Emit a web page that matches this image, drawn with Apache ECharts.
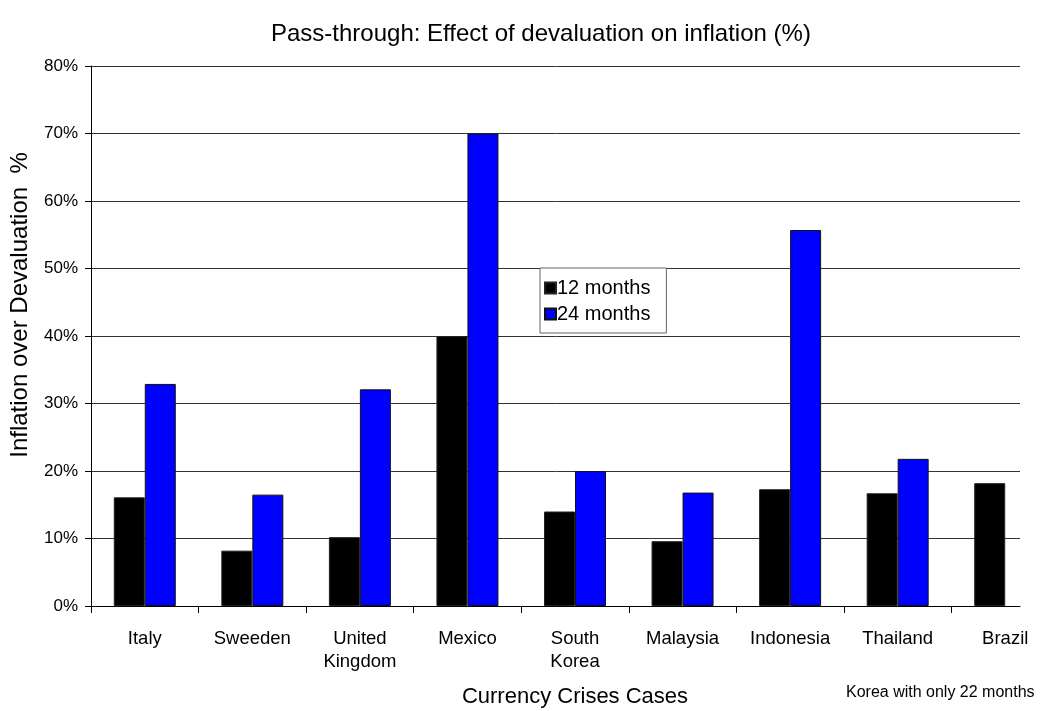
<!DOCTYPE html>
<html>
<head>
<meta charset="utf-8">
<script src="https://cdn.jsdelivr.net/npm/echarts@6/dist/echarts.min.js"></script>
<style>
  html, body { margin: 0; padding: 0; background: #fff; }
  #chart { width: 1051px; height: 711px; }
</style>
</head>
<body>
<div id="chart"></div>
<script>
// Currency crisis cases and inflation pass-through (% of devaluation)
const countries = ['Italy', 'Sweeden', 'United\nKingdom', 'Mexico', 'South\nKorea', 'Malaysia', 'Indonesia', 'Thailand', 'Brazil'];
const months12 = [16.1, 8.2, 10.2, 40.0, 14.0, 9.6, 17.3, 16.7, 18.2];
const months24 = [32.9, 16.5, 32.1, 70.0, 20.0, 16.8, 55.7, 21.8, null];
const seriesNames = ['12 months', '24 months'];

const FONT = 'Liberation Sans, Arial, sans-serif';
const chart = echarts.init(document.getElementById('chart'));

chart.setOption({
  animation: false,
  backgroundColor: '#ffffff',
  textStyle: { fontFamily: FONT, color: '#000' },
  title: [
    {
      text: 'Pass-through: Effect of devaluation on inflation (%)',
      left: 266, top: 17,
      textStyle: { fontFamily: FONT, fontSize: 24, fontWeight: 'normal', color: '#000' }
    },
    {
      text: 'Korea with only 22 months',
      left: 841, top: 680,
      textStyle: { fontFamily: FONT, fontSize: 16, fontWeight: 'normal', color: '#000' }
    }
  ],
  legend: {
    orient: 'vertical',
    left: 540, top: 268,
    padding: [10, 16, 9, 4],
    itemGap: 6,
    itemWidth: 11, itemHeight: 11,
    icon: 'rect',
    borderColor: '#666', borderWidth: 1,
    backgroundColor: '#fff',
    textStyle: { fontFamily: FONT, fontSize: 20, color: '#000', padding: [0, 0, 0, -4] },
    data: seriesNames
  },
  // grid 0: the framed plot area (value axis, gridlines, baseline)
  // grid 1: the category band, wider than the frame so the last case runs past it
  grid: [
    { left: 91, right: 31, top: 66, bottom: 105, containLabel: false, outerBoundsMode: 'none' },
    { left: 91, right: -8, top: 66, bottom: 105, containLabel: false, outerBoundsMode: 'none' }
  ],
  xAxis: [
    {
      gridIndex: 0,
      type: 'value', min: 0, max: 1,
      axisLine: { show: true, onZero: false, lineStyle: { color: '#000', width: 1 } },
      axisTick: { show: false },
      axisLabel: { show: false },
      splitLine: { show: false }
    },
    {
      gridIndex: 1,
      type: 'category',
      data: countries,
      name: 'Currency Crises Cases',
      nameLocation: 'middle',
      nameGap: 80,
      nameTextStyle: { fontFamily: FONT, fontSize: 22, color: '#000' },
      axisLine: { show: false },
      axisTick: { show: true, interval: 0, length: 7, lineStyle: { color: '#000' } },
      axisLabel: { interval: 0, fontFamily: FONT, fontSize: 18.5, color: '#000', margin: 21, lineHeight: 23 }
    }
  ],
  yAxis: [
    {
      gridIndex: 0,
      type: 'value',
      min: 0, max: 80, interval: 10,
      name: 'Inflation over Devaluation  %',
      nameLocation: 'middle',
      nameGap: 59,
      nameTextStyle: { fontFamily: FONT, fontSize: 24, color: '#000', padding: [0, 0, 0, 62] },
      axisLine: { show: true, lineStyle: { color: '#000', width: 1 } },
      axisTick: { show: true, length: 6, lineStyle: { color: '#000' } },
      axisLabel: { fontFamily: FONT, fontSize: 17, color: '#000', margin: 13, formatter: '{value}%' },
      splitLine: { show: true, lineStyle: { color: '#333', width: 1 } }
    },
    {
      gridIndex: 1,
      type: 'value',
      min: 0, max: 80, interval: 10,
      show: false,
      splitLine: { show: false }
    }
  ],
  series: [
    {
      name: seriesNames[0],
      type: 'bar',
      xAxisIndex: 1, yAxisIndex: 1,
      data: months12,
      barWidth: 31,
      barGap: '0%',
      itemStyle: { color: '#000000', borderColor: '#222', borderWidth: 1 }
    },
    {
      name: seriesNames[1],
      type: 'bar',
      xAxisIndex: 1, yAxisIndex: 1,
      data: months24,
      barWidth: 31,
      itemStyle: { color: '#0000ff', borderColor: '#111', borderWidth: 1 }
    }
  ]
});
</script>
</body>
</html>
